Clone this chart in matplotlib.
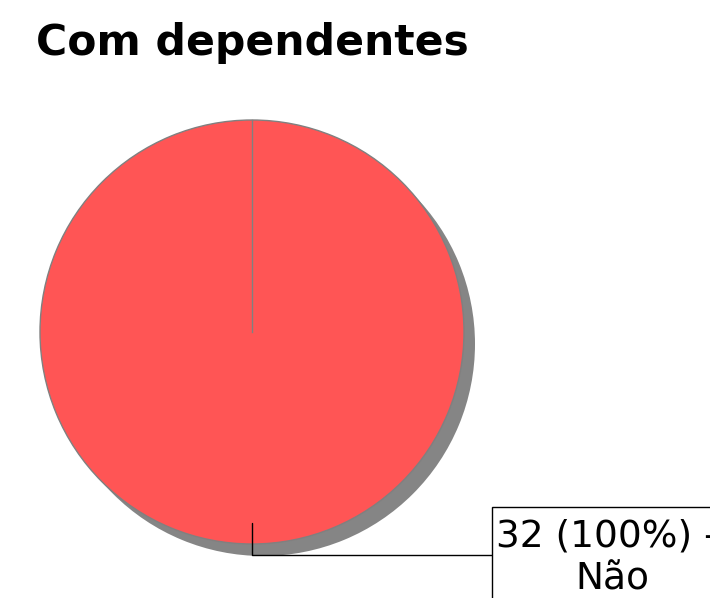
import matplotlib
matplotlib.use("Agg")
import matplotlib.pyplot as plt
from matplotlib.patches import Rectangle
import numpy as np

title = "Com dependentes"
labels = ["Não"]
values = [32]
colors = ["#FF5555"]

W, H = 710, 598
fig = plt.figure(figsize=(W / 100, H / 100), dpi=100)
ax = fig.add_axes([0, 0, 1, 1])

# pie geometry in pixels
cx, cy, R = 252, 332, 212
sx, sy = 11, 12  # shadow offset px


def px(x, y):
    return ((x - cx) / R, (cy - y) / R)


total = sum(values)
# shadow
ax.pie(values, colors=["#858585"], startangle=90, counterclock=False,
       center=px(cx + sx, cy + sy), radius=1.0,
       wedgeprops=dict(linewidth=0))
wedges, _ = ax.pie(values, colors=colors, startangle=90, counterclock=False,
                   center=(0, 0), radius=1.0,
                   wedgeprops=dict(edgecolor="#808080", linewidth=1.0))

for w, lab, v in zip(wedges, labels, values):
    # radial edge of the wedge (start boundary)
    a0 = np.radians(w.theta2)
    ax.plot([w.center[0], w.center[0] + w.r * np.cos(a0)],
            [w.center[1], w.center[1] + w.r * np.sin(a0)],
            color="#808080", lw=1.0, zorder=3)

    pct = 100 * v / total
    ang = np.radians((w.theta1 + w.theta2) / 2)
    xy = (0.9 * w.r * np.cos(ang), 0.9 * w.r * np.sin(ang))

    # label box
    bx0, by0 = px(492, 507)
    bx1, by1 = px(730, 620)
    ax.add_patch(Rectangle((bx0, by1), bx1 - bx0, by0 - by1, fc="white",
                           ec="black", lw=1.0, zorder=4, clip_on=False))
    ax.annotate("", xy=xy, xytext=px(492, 555),
                arrowprops=dict(arrowstyle="-", color="black", lw=1,
                                connectionstyle="angle,angleA=180,angleB=90,rad=0",
                                shrinkA=0, shrinkB=0), zorder=3)
    line1 = f"{v} ({pct:.0f}%) -"
    ax.text(*px(496, 547), line1, ha="left", va="baseline", fontsize=27,
            zorder=5)
    ax.text(*px(612, 590), lab, ha="center", va="baseline", fontsize=27,
            zorder=5)

ax.set_xlim(-cx / R, (W - cx) / R)
ax.set_ylim((cy - H) / R, cy / R)
ax.set_aspect("auto")
ax.axis("off")

fig.text(36 / W, 1 - 55 / H, title, fontsize=30.6, fontweight="bold",
         ha="left", va="baseline")

fig.savefig("out.png", dpi=100)
